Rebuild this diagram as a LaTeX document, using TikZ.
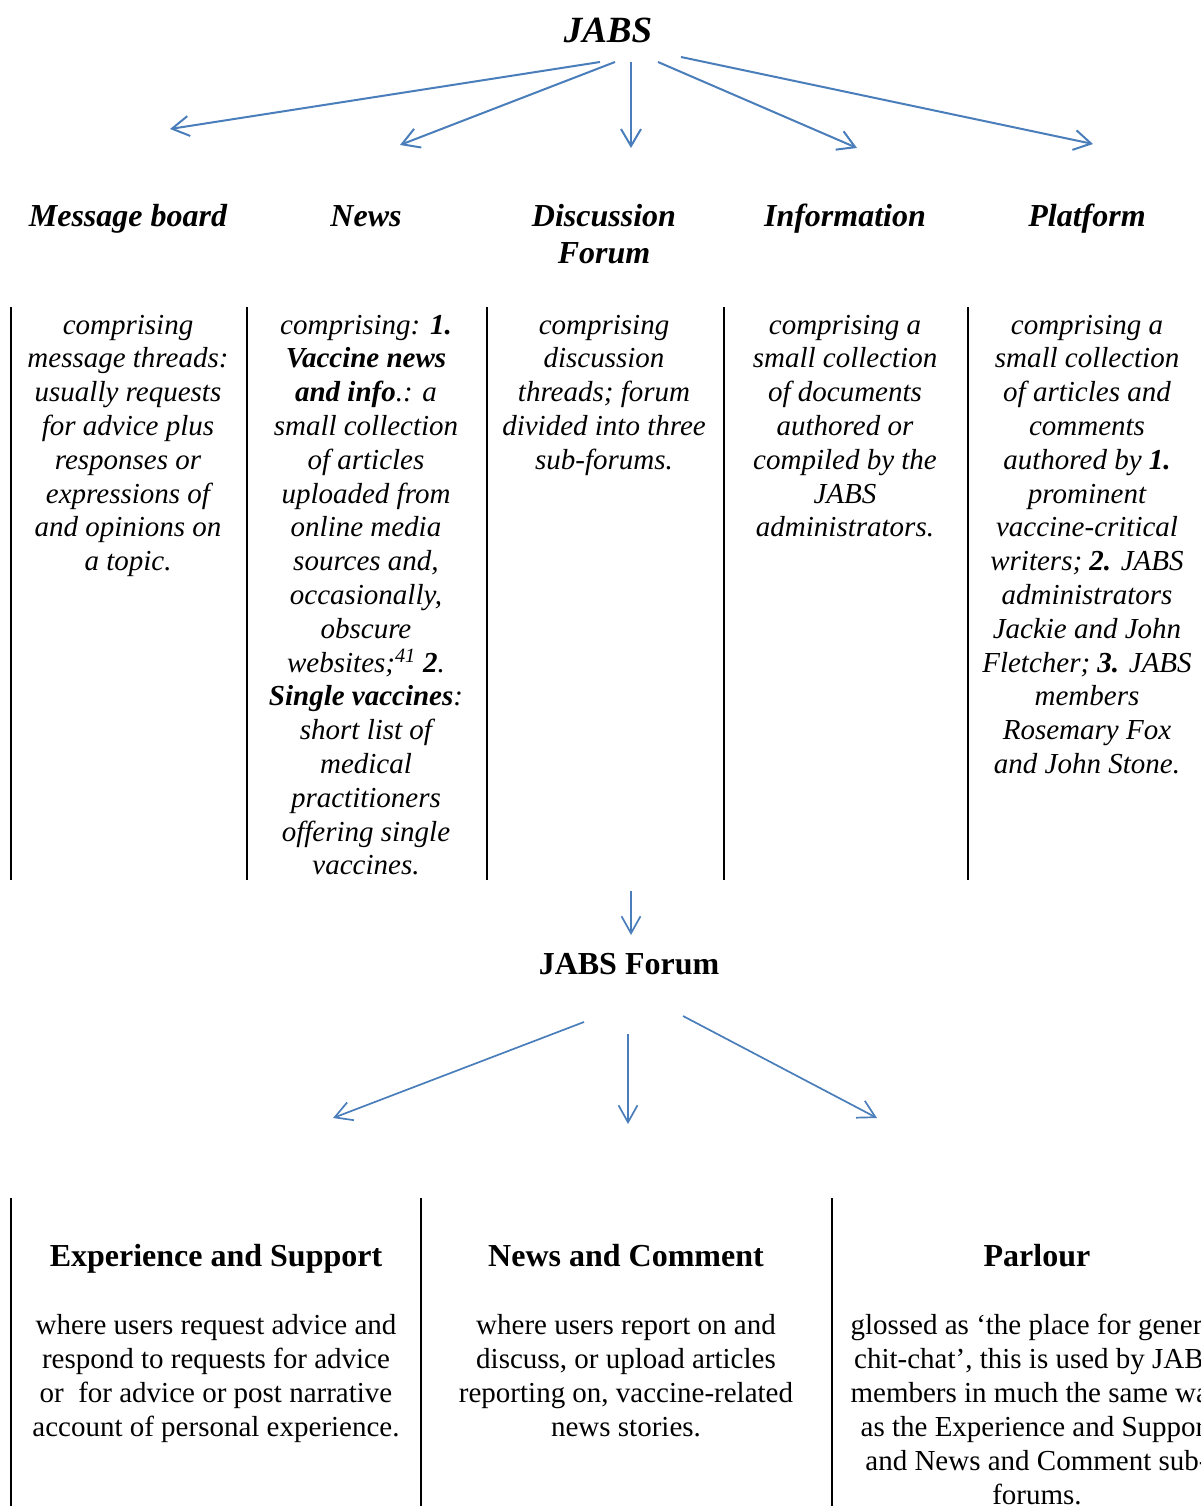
\documentclass[tikz,border=0pt]{standalone}
\usepackage{fontspec}
\setmainfont{Liberation Serif}
\usetikzlibrary{arrows.meta}
\definecolor{arrowblue}{RGB}{74,126,187}
\begin{document}
\begin{tikzpicture}[x=1pt,y=-1pt,
  body/.style={align=center, anchor=base, inner sep=0pt, font=\fontsize{29}{33.8}\selectfont\itshape},
  plainbody/.style={align=center, anchor=base, inner sep=0pt, font=\fontsize{29}{33.9}\selectfont},
  head/.style={align=center, anchor=base, inner sep=0pt, font=\fontsize{32}{36}\selectfont\bfseries\itshape},
  plainhead/.style={align=center, anchor=base, inner sep=0pt, font=\fontsize{32}{36}\selectfont\bfseries},
  toptitle/.style={anchor=base, inner sep=0pt, font=\fontsize{37}{42}\selectfont\bfseries\itshape},
  conn/.style={draw=arrowblue, line width=2pt, -{Straight Barb[length=17pt,width=20pt]}},
  connthin/.style={draw=arrowblue, line width=1.7pt, -{Straight Barb[length=17pt,width=19pt]}},
  sep/.style={draw=black, line width=2pt},
  septhin/.style={draw=black, line width=1.6pt}]
\useasboundingbox (0,0) rectangle (1201,1506);
\clip (0,0) rectangle (1201,1506);

% ---- top title
\node[toptitle] (jabs) at (608,43) {JABS};

% ---- arrow coordinates
\coordinate (s1) at (600,62);  \coordinate (e1) at (170,129);
\coordinate (s2) at (615,62);  \coordinate (e2) at (400,145);
\coordinate (s3) at (631,62);  \coordinate (e3) at (631,148);
\coordinate (s4) at (658,62);  \coordinate (e4) at (857,148);
\coordinate (s5) at (681,57);  \coordinate (e5) at (1093,144);
\draw[conn] (s1) -- (e1);
\draw[conn] (s2) -- (e2);
\draw[conn] (s3) -- (e3);
\draw[conn] (s4) -- (e4);
\draw[conn] (s5) -- (e5);

% ---- column headers (anchor = baseline of last line)
\node[head] (h1) at (128,227) {Message board};
\node[head] (h2) at (366,227) {News};
\node[head] (h3) at (604,263) {Discussion\\Forum};
\node[head] (h4) at (845,227) {Information};
\node[head] (h5) at (1087,227) {Platform};

% ---- separators (top)
\foreach \x in {11,247,487,724,968}{
  \draw[sep] (\x,307) -- (\x,880);
}

% ---- column texts (anchor = baseline of last line; first baseline 334)
\node[body] (b1) at (128,{334+7*33.8}) {comprising\\message threads:\\usually requests\\for advice plus\\responses or\\expressions of\\and opinions on\\a topic.};
\node[body] (b2) at (366,{334+16*33.8}) {comprising: \textbf{1.}\\\textbf{Vaccine news}\\\textbf{and info}.: a\\small collection\\of articles\\uploaded from\\online media\\sources and,\\occasionally,\\obscure\\websites;\textsuperscript{41} \textbf{2}.\\\textbf{Single vaccines}:\\short list of\\medical\\practitioners\\offering single\\vaccines.};
\node[body] (b3) at (604,{334+4*33.8}) {comprising\\discussion\\threads; forum\\divided into three\\sub-forums.};
\node[body] (b4) at (845,{334+6*33.8}) {comprising a\\small collection\\of documents\\authored or\\compiled by the\\JABS\\administrators.};
\node[body] (b5) at (1087,{334+13*33.8}) {comprising a\\small collection\\of articles and\\comments\\authored by \textbf{1.}\\prominent\\vaccine-critical\\writers; \textbf{2.} JABS\\administrators\\Jackie and John\\Fletcher; \textbf{3.} JABS\\members\\Rosemary Fox\\and John Stone.};

% ---- arrow to JABS Forum
\coordinate (f0s) at (631,891); \coordinate (f0e) at (631,935);
\draw[connthin] (f0s) -- (f0e);
\node[plainhead] (forum) at (629,974) {JABS Forum};

\coordinate (f1s) at (584,1022); \coordinate (f1e) at (333,1118);
\coordinate (f2s) at (628,1034); \coordinate (f2e) at (628,1124);
\coordinate (f3s) at (683,1016); \coordinate (f3e) at (877,1118);
\draw[connthin] (f1s) -- (f1e);
\draw[connthin] (f2s) -- (f2e);
\draw[connthin] (f3s) -- (f3e);

% ---- separators (bottom)
\foreach \x in {11,421,832}{
  \draw[septhin] (\x,1198) -- (\x,1506);
}

% ---- sub-forums
\node[plainhead] (g1) at (216,1266) {Experience and Support};
\node[plainhead] (g2) at (626,1266) {News and Comment};
\node[plainhead] (g3) at (1037,1266) {Parlour};

\node[plainbody] (t1) at (216,{1335+3*33.8}) {where users request advice and\\respond to requests for advice\\or\ \ for advice or post narrative\\account of personal experience.};
\node[plainbody] (t2) at (626,{1335+3*33.8}) {where users report on and\\discuss, or upload articles\\reporting on, vaccine-related\\news stories.};
\node[plainbody] (t3) at (1037,{1335+5*33.8}) {glossed as ‘the place for general\\chit-chat’, this is used by JABS\\members in much the same way\\as the Experience and Support\\and News and Comment sub-\\forums.};
\end{tikzpicture}
\end{document}
